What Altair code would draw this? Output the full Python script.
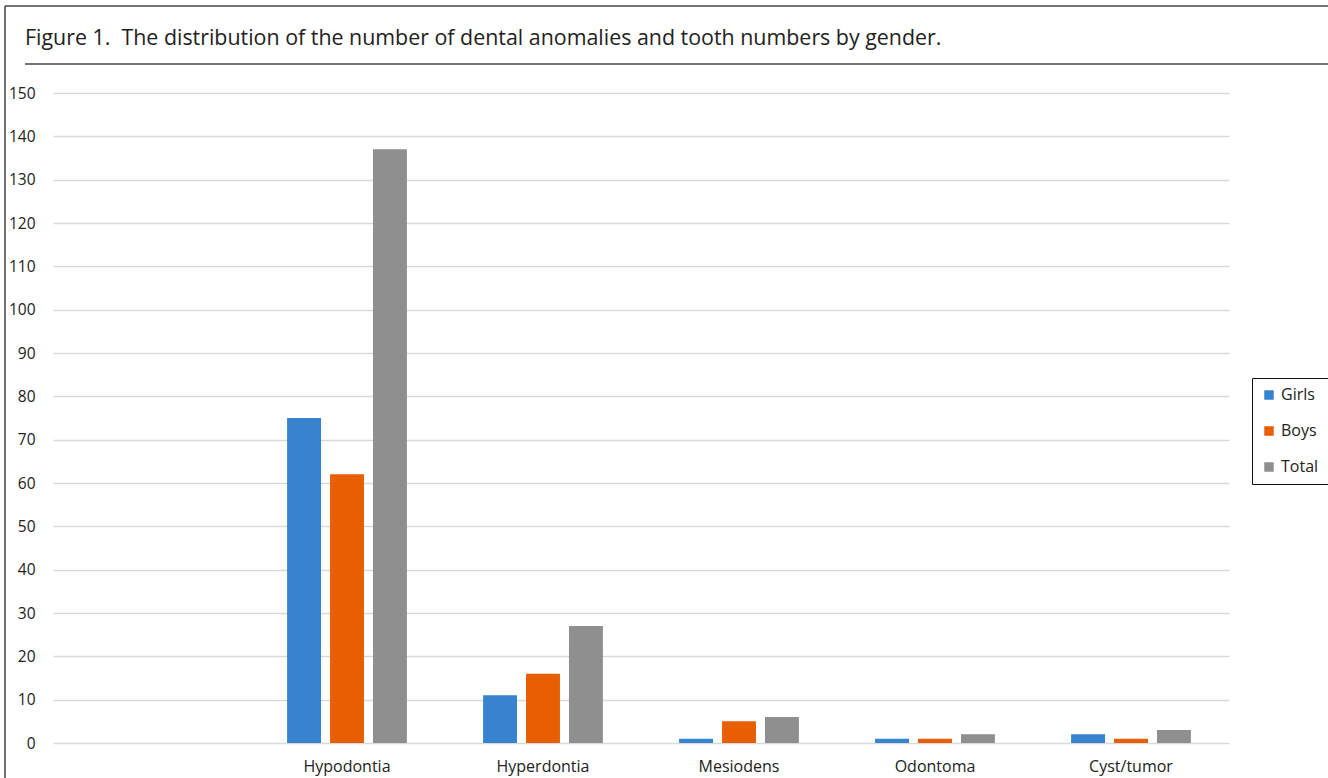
import altair as alt
import pandas as pd

categories = [" ", "Hypodontia", "Hyperdontia", "Mesiodens", "Odontoma", "Cyst/tumor"]
anomalies = ["Hypodontia", "Hyperdontia", "Mesiodens", "Odontoma", "Cyst/tumor"]
girls = [75, 11, 1, 1, 2]
boys = [62, 16, 5, 1, 1]
total = [137, 27, 6, 2, 3]
series = ["Girls", "Boys", "Total"]
colors = ["#3783CF", "#E85E02", "#8F8F8F"]
y_ticks = list(range(0, 151, 10))
title_text = "Figure 1.\u00a0 The distribution of the number of dental anomalies and tooth numbers by gender."

rows = []
for i, a in enumerate(anomalies):
    for s, vals in zip(series, [girls, boys, total]):
        rows.append({"category": a, "series": s, "value": vals[i]})
df = pd.DataFrame(rows)

FONT = "Open Sans"

bars = alt.Chart(df).mark_bar().encode(
    x=alt.X("category:N", sort=categories,
            scale=alt.Scale(domain=categories, paddingInner=0.38, paddingOuter=0.19),
            axis=alt.Axis(title=None, labelAngle=0, ticks=False, domain=False,
                          labelFontSize=16, labelPadding=15, labelColor="#222",
                          labelFont=FONT, grid=False)),
    xOffset=alt.XOffset("series:N", sort=series,
                        scale=alt.Scale(domain=series, paddingInner=0.21, paddingOuter=0.02)),
    y=alt.Y("value:Q", scale=alt.Scale(domain=[0, 150], nice=False),
            axis=alt.Axis(title=None, values=y_ticks, ticks=False, domain=False,
                          labelFontSize=15.5, labelPadding=18, labelColor="#222",
                          labelFont=FONT, gridColor="#D9D9D9", gridWidth=1.5)),
    color=alt.Color("series:N", sort=series,
                    scale=alt.Scale(domain=series, range=colors),
                    legend=alt.Legend(title=None, orient="none", legendX=1199, legendY=285,
                                      symbolType="square", symbolSize=90,
                                      symbolStrokeWidth=0, labelFontSize=16,
                                      labelFont=FONT, labelColor="#222",
                                      padding=9, rowPadding=20, labelOffset=4,
                                      fillColor="white", strokeColor="#111")),
)

frame = pd.DataFrame([{"k": 1}])
left_line = alt.Chart(frame).mark_rule(color="#444", strokeWidth=1.5).encode(
    x=alt.value(-48), y=alt.value(-87), y2=alt.value(690))
top_line = alt.Chart(frame).mark_rule(color="#444", strokeWidth=1.5).encode(
    x=alt.value(-48), x2=alt.value(1280), y=alt.value(-87))
under_line = alt.Chart(frame).mark_rule(color="#444", strokeWidth=1.5).encode(
    x=alt.value(-28), x2=alt.value(1280), y=alt.value(-29))
title = alt.Chart(frame).mark_text(
    text=title_text, align="left", baseline="alphabetic", fontSize=21.4,
    font=FONT, color="#222").encode(x=alt.value(-28), y=alt.value(-48))

chart = alt.layer(bars, left_line, top_line, under_line, title).properties(
    width=1176, height=650,
    background="white",
    autosize=alt.AutoSizeParams(type="none"),
    padding={"left": 53, "top": 93, "right": 99, "bottom": 35},
).configure_view(stroke=None)

chart.save("out.html", embed_options={"renderer": "svg", "actions": False})
